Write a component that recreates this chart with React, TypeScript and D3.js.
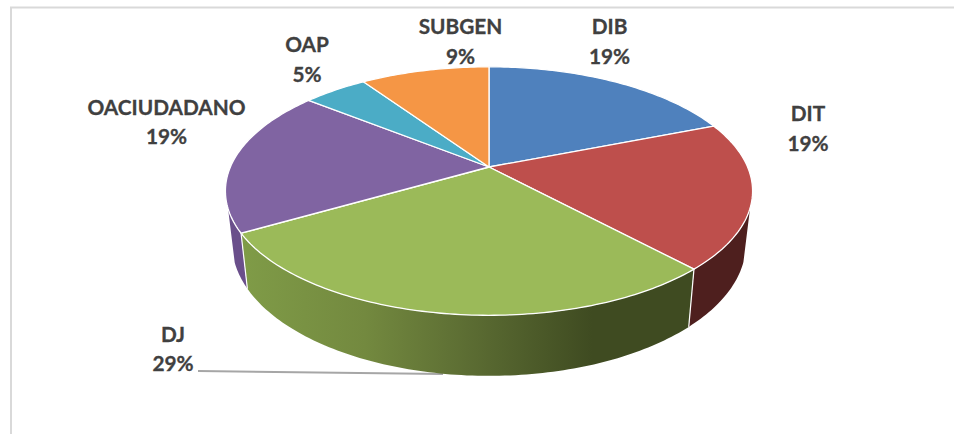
/**
 * Perspective 3D pie: participation by office.
 * Rim points go through a small projective map, so the near slices look larger
 * than the far ones while the angles still come straight from d3.pie.
 */

import * as d3 from 'd3';

const categories = ['DIB', 'DIT', 'DJ', 'OACIUDADANO', 'OAP', 'SUBGEN'];
const counts = [4, 4, 6, 4, 1, 2];
const percentLabels = ['19%', '19%', '29%', '19%', '5%', '9%'];
const topColors = ['#4f81bd', '#be4f4c', '#9bba59', '#8064a2', '#4bacc6', '#f59645'];

const WIDTH = 954;
const HEIGHT = 434;
const DEG = Math.PI / 180;

// projection of the two rims
const cx = 489;
const persp = 0.1935;
const topRim = { rx: 258.6, ry: 119.6, cy: 167 };
const bottomRim = { rx: 252, ry: 127, cy: 218.4 };

// where the side wall stops being visible, both sides of the pie
const wallStart = 108.8 * DEG;
const wallEnd = 251 * DEG;

type Rim = typeof topRim;

function project(rim: Rim, angle: number): [number, number] {
  const w = 1 + persp * Math.cos(angle);
  return [cx + (rim.rx * Math.sin(angle)) / w, rim.cy - (rim.ry * Math.cos(angle)) / w];
}

function rimPoints(rim: Rim, a0: number, a1: number) {
  const n = Math.max(2, Math.ceil((a1 - a0) / DEG));
  return d3.range(n + 1).map((i) => project(rim, a0 + ((a1 - a0) * i) / n));
}

const line = d3.line();

// label centre x and the two text baselines
const labelLayout: Record<string, { x: number; y1: number; y2: number }> = {
  DIB: { x: 609.5, y1: 34, y2: 64 },
  DIT: { x: 808, y1: 121, y2: 151 },
  DJ: { x: 173, y1: 342, y2: 371 },
  OACIUDADANO: { x: 166.5, y1: 115, y2: 144 },
  OAP: { x: 307, y1: 52, y2: 82 },
  SUBGEN: { x: 460.5, y1: 34, y2: 64 },
};

export default function App() {
  const arcs = d3.pie<number>().sort(null)(counts);

  const walls = arcs
    .map((a, i) => {
      const a0 = Math.max(a.startAngle, wallStart);
      const a1 = Math.min(a.endAngle, wallEnd);
      if (a1 <= a0) return null;
      const pts = [...rimPoints(topRim, a0, a1), ...rimPoints(bottomRim, a0, a1).reverse()];
      return { i, d: line(pts) + 'Z' };
    })
    .filter(Boolean) as { i: number; d: string }[];

  // white seams where two visible walls meet
  const seams = arcs
    .map((a) => a.endAngle)
    .filter((angle) => angle > wallStart && angle < wallEnd);

  const wallFill = (i: number) => {
    if (categories[i] === 'DJ') return 'url(#djWall)';
    if (categories[i] === 'DIT') return '#4e1f1e';
    return '#6a4f8b';
  };

  return (
    <svg
      width={WIDTH}
      height={HEIGHT}
      style={{ position: 'absolute', left: 0, top: 0, display: 'block', background: '#fff' }}
    >
      <defs>
        <linearGradient id="djWall" gradientUnits="userSpaceOnUse" x1={245} x2={690} y1={0} y2={0}>
          <stop offset="0" stopColor="#7f9b47" />
          <stop offset="0.27" stopColor="#73893f" />
          <stop offset="0.5" stopColor="#5c6d33" />
          <stop offset="0.78" stopColor="#3f4b21" />
          <stop offset="1" stopColor="#3f4b21" />
        </linearGradient>
      </defs>

      {/* chart frame, only top and left survive in the crop */}
      <path d={`M11,${HEIGHT}V7.5H${WIDTH}`} fill="none" stroke="#d9d9d9" strokeWidth={2} />

      {/* leader line for DJ */}
      <line x1={198} y1={371} x2={443} y2={374} stroke="#a6a6a6" strokeWidth={2} />

      {walls.map((w) => (
        <path key={w.i} d={w.d} fill={wallFill(w.i)} />
      ))}
      {seams.map((angle) => (
        <path
          key={angle}
          d={line([project(topRim, angle), project(bottomRim, angle)]) as string}
          stroke="#fff"
          strokeWidth={1.2}
        />
      ))}

      {arcs.map((a, i) => (
        <path
          key={categories[i]}
          d={line([[cx, topRim.cy], ...rimPoints(topRim, a.startAngle, a.endAngle)]) + 'Z'}
          fill={topColors[i]}
          stroke="#fff"
          strokeWidth={1.3}
          strokeLinejoin="round"
        />
      ))}

      <g
        fontFamily="Lato, 'Open Sans', sans-serif"
        fontWeight={700}
        fontSize={20.8}
        fill="#404040"
        stroke="#404040"
        strokeWidth={0.3}
        textAnchor="middle"
      >
        {categories.map((c, i) => (
          <g key={c}>
            <text x={labelLayout[c].x} y={labelLayout[c].y1}>{c}</text>
            <text x={labelLayout[c].x} y={labelLayout[c].y2}>{percentLabels[i]}</text>
          </g>
        ))}
      </g>
    </svg>
  );
}
